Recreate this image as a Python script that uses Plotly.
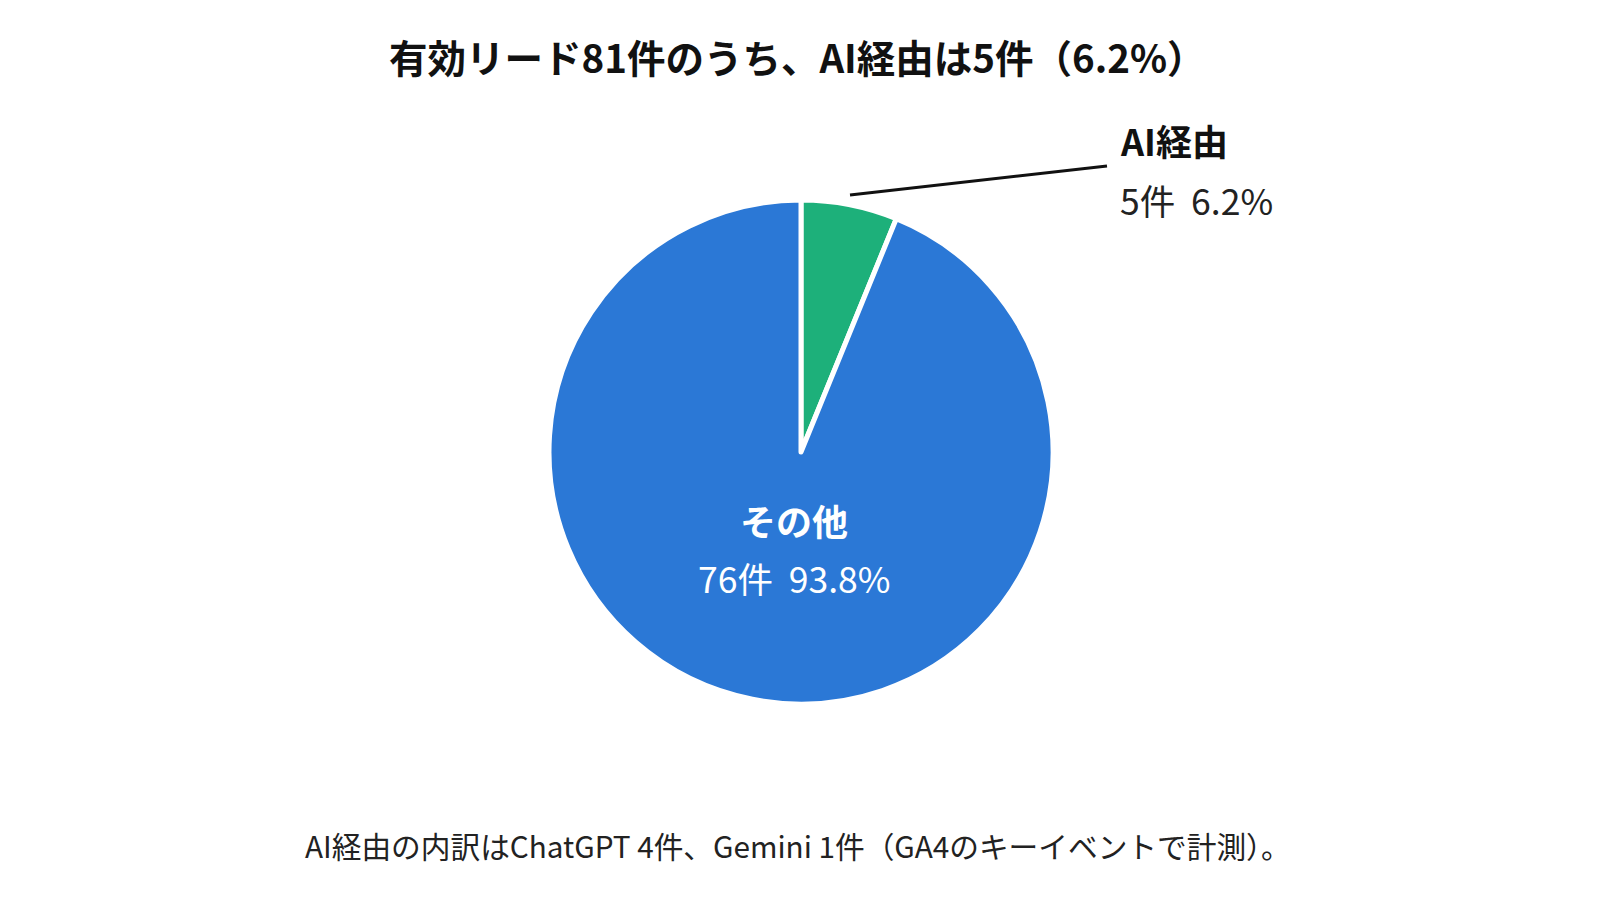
import plotly.graph_objects as go

labels = ["AI経由", "その他"]
counts = [5, 76]
colors = ["#1DB07A", "#2B78D6"]
title_text = "有効リード81件のうち、AI経由は5件（6.2%）"
footer_text = "AI経由の内訳はChatGPT 4件、Gemini 1件（GA4のキーイベントで計測）。"

total = sum(counts)
pcts = [c / total * 100 for c in counts]

W, H = 1600, 919
FONT = "Noto Sans CJK JP"

CX, CY, R = 801, 452, 252

fig = go.Figure(go.Pie(
    labels=labels,
    values=counts,
    sort=False,
    direction="clockwise",
    rotation=0,
    marker=dict(colors=colors, line=dict(color="white", width=5)),
    textinfo="none",
    hoverinfo="label+value+percent",
    domain=dict(x=[(CX - R) / W, (CX + R) / W], y=[(H - CY - R) / H, (H - CY + R) / H]),
    showlegend=False,
))

def px(x):
    return x / W

def py(y):
    return 1 - y / H

ann = []
ann.append(dict(x=px(797), y=py(56), text=f"<b>{title_text}</b>", showarrow=False,
                font=dict(family=FONT, size=38.5, color="#111111"), xanchor="center", yanchor="middle"))
# AI label (outside)
ann.append(dict(x=px(1118), y=py(140), text=f"<b>{labels[0]}</b>", showarrow=False,
                font=dict(family=FONT, size=36, color="#111111"), xanchor="left", yanchor="middle"))
ann.append(dict(x=px(1118), y=py(199), text=f"{counts[0]}件  {pcts[0]:.1f}%", showarrow=False,
                font=dict(family=FONT, size=35.5, color="#222222"), xanchor="left", yanchor="middle"))
# Other label (inside)
ann.append(dict(x=px(794), y=py(520), text=f"<b>{labels[1]}</b>", showarrow=False,
                font=dict(family=FONT, size=36, color="white"), xanchor="center", yanchor="middle"))
ann.append(dict(x=px(794), y=py(577), text=f"{counts[1]}件  {pcts[1]:.1f}%", showarrow=False,
                font=dict(family=FONT, size=35.5, color="white"), xanchor="center", yanchor="middle"))
# footer
ann.append(dict(x=px(798), y=py(845), text=footer_text, showarrow=False,
                font=dict(family=FONT, size=29.7, color="#222222"), xanchor="center", yanchor="middle"))

fig.update_layout(
    width=W, height=H,
    margin=dict(l=0, r=0, t=0, b=0),
    paper_bgcolor="white",
    plot_bgcolor="white",
    annotations=ann,
    shapes=[dict(type="line", xref="paper", yref="paper",
                 x0=px(850), y0=py(195), x1=px(1107), y1=py(166),
                 line=dict(color="#111111", width=3))],
)

fig.write_html("out.html", config={"displayModeBar": False},
               post_script="document.body.style.margin='0';document.body.style.overflow='hidden';")
